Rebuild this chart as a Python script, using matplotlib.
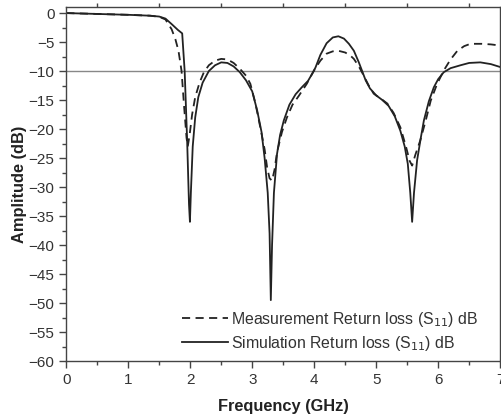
import matplotlib
matplotlib.use("Agg")
import matplotlib.pyplot as plt
from matplotlib.ticker import MultipleLocator

plt.rcParams['font.family'] = ['Liberation Sans', 'DejaVu Sans']

# simulation return loss (GHz, dB)
sim_f = [0.0, 0.5, 1.0, 1.35, 1.5, 1.6, 1.7, 1.8, 1.87, 1.91, 1.95, 1.98, 1.995,
         2.01, 2.04, 2.08, 2.13, 2.2, 2.3, 2.4, 2.5, 2.6, 2.7, 2.8, 2.9, 3.0,
         3.08, 3.15, 3.2, 3.25, 3.28, 3.3, 3.32, 3.35, 3.4, 3.45, 3.51, 3.6,
         3.7, 3.8, 3.9, 3.96, 4.02, 4.1, 4.2, 4.3, 4.39, 4.48, 4.56, 4.64,
         4.72, 4.77, 4.83, 4.9, 5.0, 5.1, 5.2, 5.3, 5.39, 5.46, 5.51, 5.55,
         5.58, 5.61, 5.66, 5.72, 5.77, 5.85, 5.93, 6.0, 6.09, 6.2, 6.36, 6.5,
         6.68, 6.85, 7.0]
sim_db = [0.0, -0.15, -0.3, -0.45, -0.6, -0.95, -1.9, -2.9, -3.5, -10, -22, -33, -36,
          -31, -23, -18, -14.5, -12, -10, -9.0, -8.5, -8.6, -9.2, -10.2, -11.6, -13.5,
          -16.8, -20.5, -25, -31, -38, -49.5, -40, -31, -24.3, -21, -18.5, -15.8,
          -14, -12.8, -11.7, -10.6, -9.4, -7.2, -5.2, -4.2, -4.0, -4.4, -5.3, -6.5,
          -8.5, -9.9, -11.6, -13, -14.2, -15, -16, -17.8, -20.3, -23, -26, -31,
          -36, -31, -25.4, -21.5, -18.5, -15.2, -12.8, -11.4, -10.2, -9.5, -9.0, -8.6,
          -8.5, -8.8, -9.3]

# measured return loss (GHz, dB)
meas_f = [0.0, 0.5, 1.0, 1.35, 1.5, 1.6, 1.7, 1.76, 1.81, 1.86, 1.9, 1.94, 1.96,
          1.99, 2.03, 2.08, 2.15, 2.22, 2.3, 2.4, 2.5, 2.6, 2.7, 2.8, 2.9, 2.97,
          3.05, 3.13, 3.2, 3.24, 3.28, 3.32, 3.36, 3.4, 3.48, 3.56, 3.65, 3.75,
          3.88, 3.95, 4.02, 4.1, 4.2, 4.3, 4.39, 4.5, 4.58, 4.64, 4.72, 4.8,
          4.88, 4.96, 5.08, 5.18, 5.28, 5.39, 5.48, 5.54, 5.58, 5.63, 5.71, 5.8,
          5.88, 5.98, 6.09, 6.2, 6.31, 6.42, 6.52, 6.7, 6.85, 7.0]
meas_db = [0.0, -0.15, -0.3, -0.45, -0.65, -1.1, -2.8, -4.5, -6.5, -10, -16, -21.5, -23,
           -21, -17.5, -14.5, -12, -10.2, -9.0, -8.2, -7.9, -8.0, -8.6, -9.6, -10.8, -12.2,
           -15.5, -19.7, -23.5, -26.6, -28.5, -28.9, -27, -24, -20.5, -18, -15.8, -14.3,
           -12.2, -10.8, -9.5, -8.2, -7.0, -6.6, -6.5, -6.8, -7.3, -7.9, -9.2, -10.8,
           -12.5, -13.9, -14.8, -15.6, -17.2, -19.7, -23, -25.5, -26.3, -24.5, -22, -18.5,
           -15.1, -12.3, -9.9, -8, -6.5, -5.7, -5.3, -5.3, -5.4, -5.6]

ref_level = -10

fig = plt.figure(figsize=(5.01, 4.16), dpi=100)
ax = fig.add_axes([0.1323, 0.1322, 0.866, 0.8503])

ax.axhline(ref_level, color='#888888', lw=1.0, zorder=1)
ax.plot(meas_f, meas_db, color='#222222', lw=1.3, ls=(0, (4.5, 3)),
        label='Measurement Return loss (S$_{11}$) dB')
ax.plot(sim_f, sim_db, color='#222222', lw=1.3,
        label='Simulation Return loss (S$_{11}$) dB')

ax.set_xlim(0, 7)
ax.set_ylim(-60, 1)
ax.xaxis.set_major_locator(MultipleLocator(1))
ax.xaxis.set_minor_locator(MultipleLocator(0.5))
ax.yaxis.set_major_locator(MultipleLocator(5))
ax.yaxis.set_minor_locator(MultipleLocator(2.5))
ax.tick_params(which='both', direction='out', colors='#444444', labelcolor='#333333',
               labelsize=11, width=1.0)
ax.tick_params(which='major', length=5)
ax.tick_params(which='minor', length=3)
ax.tick_params(axis='x', which='minor', top=True)
for s in ax.spines.values():
    s.set_color('#444444')
    s.set_linewidth(1.0)

ax.set_xlabel('Frequency (GHz)', fontsize=11.8, fontweight='bold', color='#222222', labelpad=9)
ax.set_ylabel('Amplitude (dB)', fontsize=11.8, fontweight='bold', color='#222222', labelpad=1)

leg = ax.legend(loc='lower left', bbox_to_anchor=(0.233, -0.017), frameon=False,
                fontsize=11.4, handlelength=2.9, handletextpad=0.25, labelspacing=0.3)
for t in leg.get_texts():
    t.set_color('#333333')

fig.savefig('out.png', dpi=100)
